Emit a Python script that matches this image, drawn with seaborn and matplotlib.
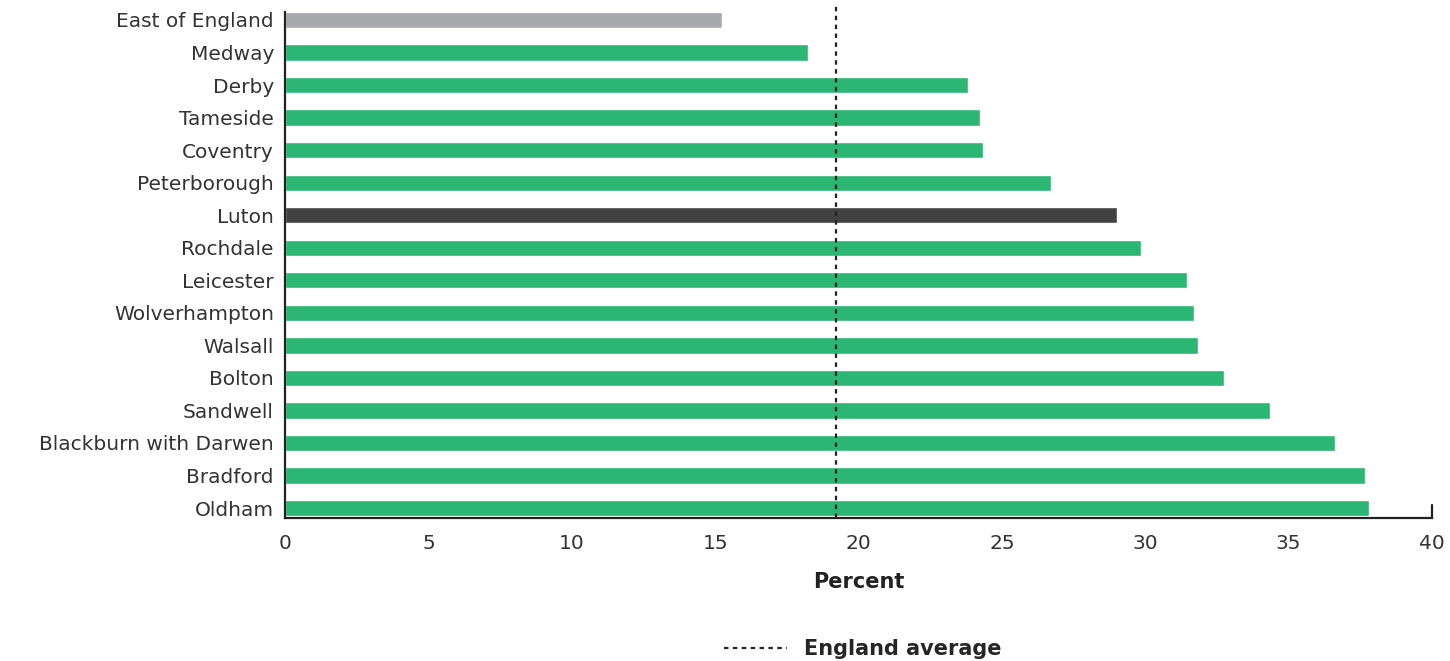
import pandas as pd
import numpy as np
import matplotlib
matplotlib.use("Agg")
import matplotlib.pyplot as plt
from matplotlib.lines import Line2D
import seaborn as sns

areas = ["East of England", "Medway", "Derby", "Tameside", "Coventry", "Peterborough",
         "Luton", "Rochdale", "Leicester", "Wolverhampton", "Walsall", "Bolton",
         "Sandwell", "Blackburn with Darwen", "Bradford", "Oldham"]
percent = [15.25, 18.25, 23.8, 24.25, 24.35, 26.7, 29.0, 29.85, 31.45, 31.7, 31.85,
           32.75, 34.35, 36.6, 37.65, 37.8]
england_avg = 19.2

green = "#2bb673"
colors = {a: green for a in areas}
colors["East of England"] = "#a7a9ac"
colors["Luton"] = "#414141"

df = pd.DataFrame({"area": areas, "percent": percent})

sns.set_style("white")
plt.rcParams["font.family"] = ["DejaVu Sans"]

fig = plt.figure(figsize=(14.5, 6.61), dpi=100)
ax = fig.add_axes([0.1966, 0.2166, 0.7910, 0.7778])

sns.barplot(data=df, x="percent", y="area", hue="area", palette=colors,
            legend=False, orient="h", width=0.5, saturation=1, ax=ax)

ax.axvline(england_avg, color="#222222", linestyle=(0, (2, 2)), linewidth=1.6)

ax.set_xlim(0, 40)
ax.set_ylim(15.3, -0.5)
ax.set_xticks(range(0, 41, 5))
ax.tick_params(axis="both", length=0, labelsize=14.5, colors="#333333")
ax.tick_params(axis="x", pad=12)
ax.tick_params(axis="y", pad=8)
ax.set_ylabel("")
ax.set_xlabel("Percent", fontsize=15, fontweight="bold", color="#222222", labelpad=13)

for s in ["top", "right"]:
    ax.spines[s].set_visible(False)
for s in ["left", "bottom"]:
    ax.spines[s].set_color("#222222")
    ax.spines[s].set_linewidth(1.6)
ax.spines["left"].set_bounds(15.3, -0.25)
# small end tick at 40
ax.plot([40, 40], [15.3, 14.9], color="#222222", linewidth=1.6, clip_on=False)

handle = Line2D([], [], color="#222222", linestyle=(0, (2, 2)), linewidth=1.6)
fig.legend([handle], ["England average"], loc="center", bbox_to_anchor=(0.595, 0.018),
           frameon=False, handlelength=3, prop={"size": 15, "weight": "bold"})

fig.savefig("out.png", dpi=100)
